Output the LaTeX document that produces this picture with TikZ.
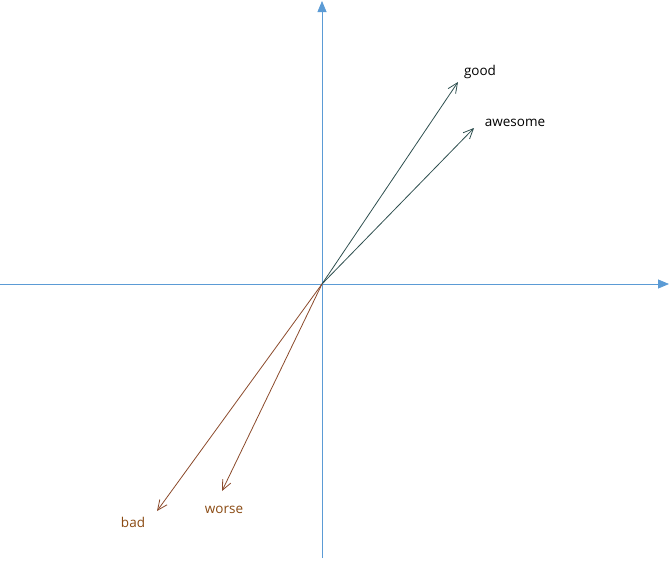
\documentclass[tikz,border=0pt]{standalone}
\usepackage{fontspec}
\setmainfont{Open Sans}
\usetikzlibrary{arrows.meta}
\definecolor{axisblue}{HTML}{5B9BD5}
\definecolor{posgreen}{HTML}{2E4F4F}
\definecolor{negbrown}{HTML}{8B4A2B}
\definecolor{negtext}{HTML}{8A4A12}
\begin{document}
\begin{tikzpicture}[
x=1pt,y=-1pt,
every node/.append style={font={\fontsize{13.5}{16}\selectfont}},
axis/.style={-{Triangle[length=11pt,width=9pt]},axisblue,line width=0.8pt},
vec/.style={-{Straight Barb[length=10pt,width=9pt]},line width=0.8pt},
posvec/.style={vec,posgreen},
negvec/.style={vec,negbrown},
]
\useasboundingbox (0,0) rectangle (672,560);

\coordinate (O) at (322,284);
\coordinate (L) at (0,284);
\coordinate (R) at (669,284);
\coordinate (B) at (322,558);
\coordinate (T) at (322,1);

\draw[axis] (L)--(R);
\draw[axis] (B)--(T);

\coordinate (good) at (458,82);
\coordinate (awesome) at (474,128);
\coordinate (bad) at (157,511);
\coordinate (worse) at (222,491);

\draw[posvec] (O)--(good);
\draw[posvec] (O)--(awesome);
\draw[negvec] (O)--(bad);
\draw[negvec] (O)--(worse);

\node (goodlbl) at (480,72) {good};
\node (awesomelbl) at (515,123) {awesome};
\node[negtext] (badlbl) at (133,522) {bad};
\node[negtext] (worselbl) at (224,510) {worse};

\end{tikzpicture}
\end{document}
